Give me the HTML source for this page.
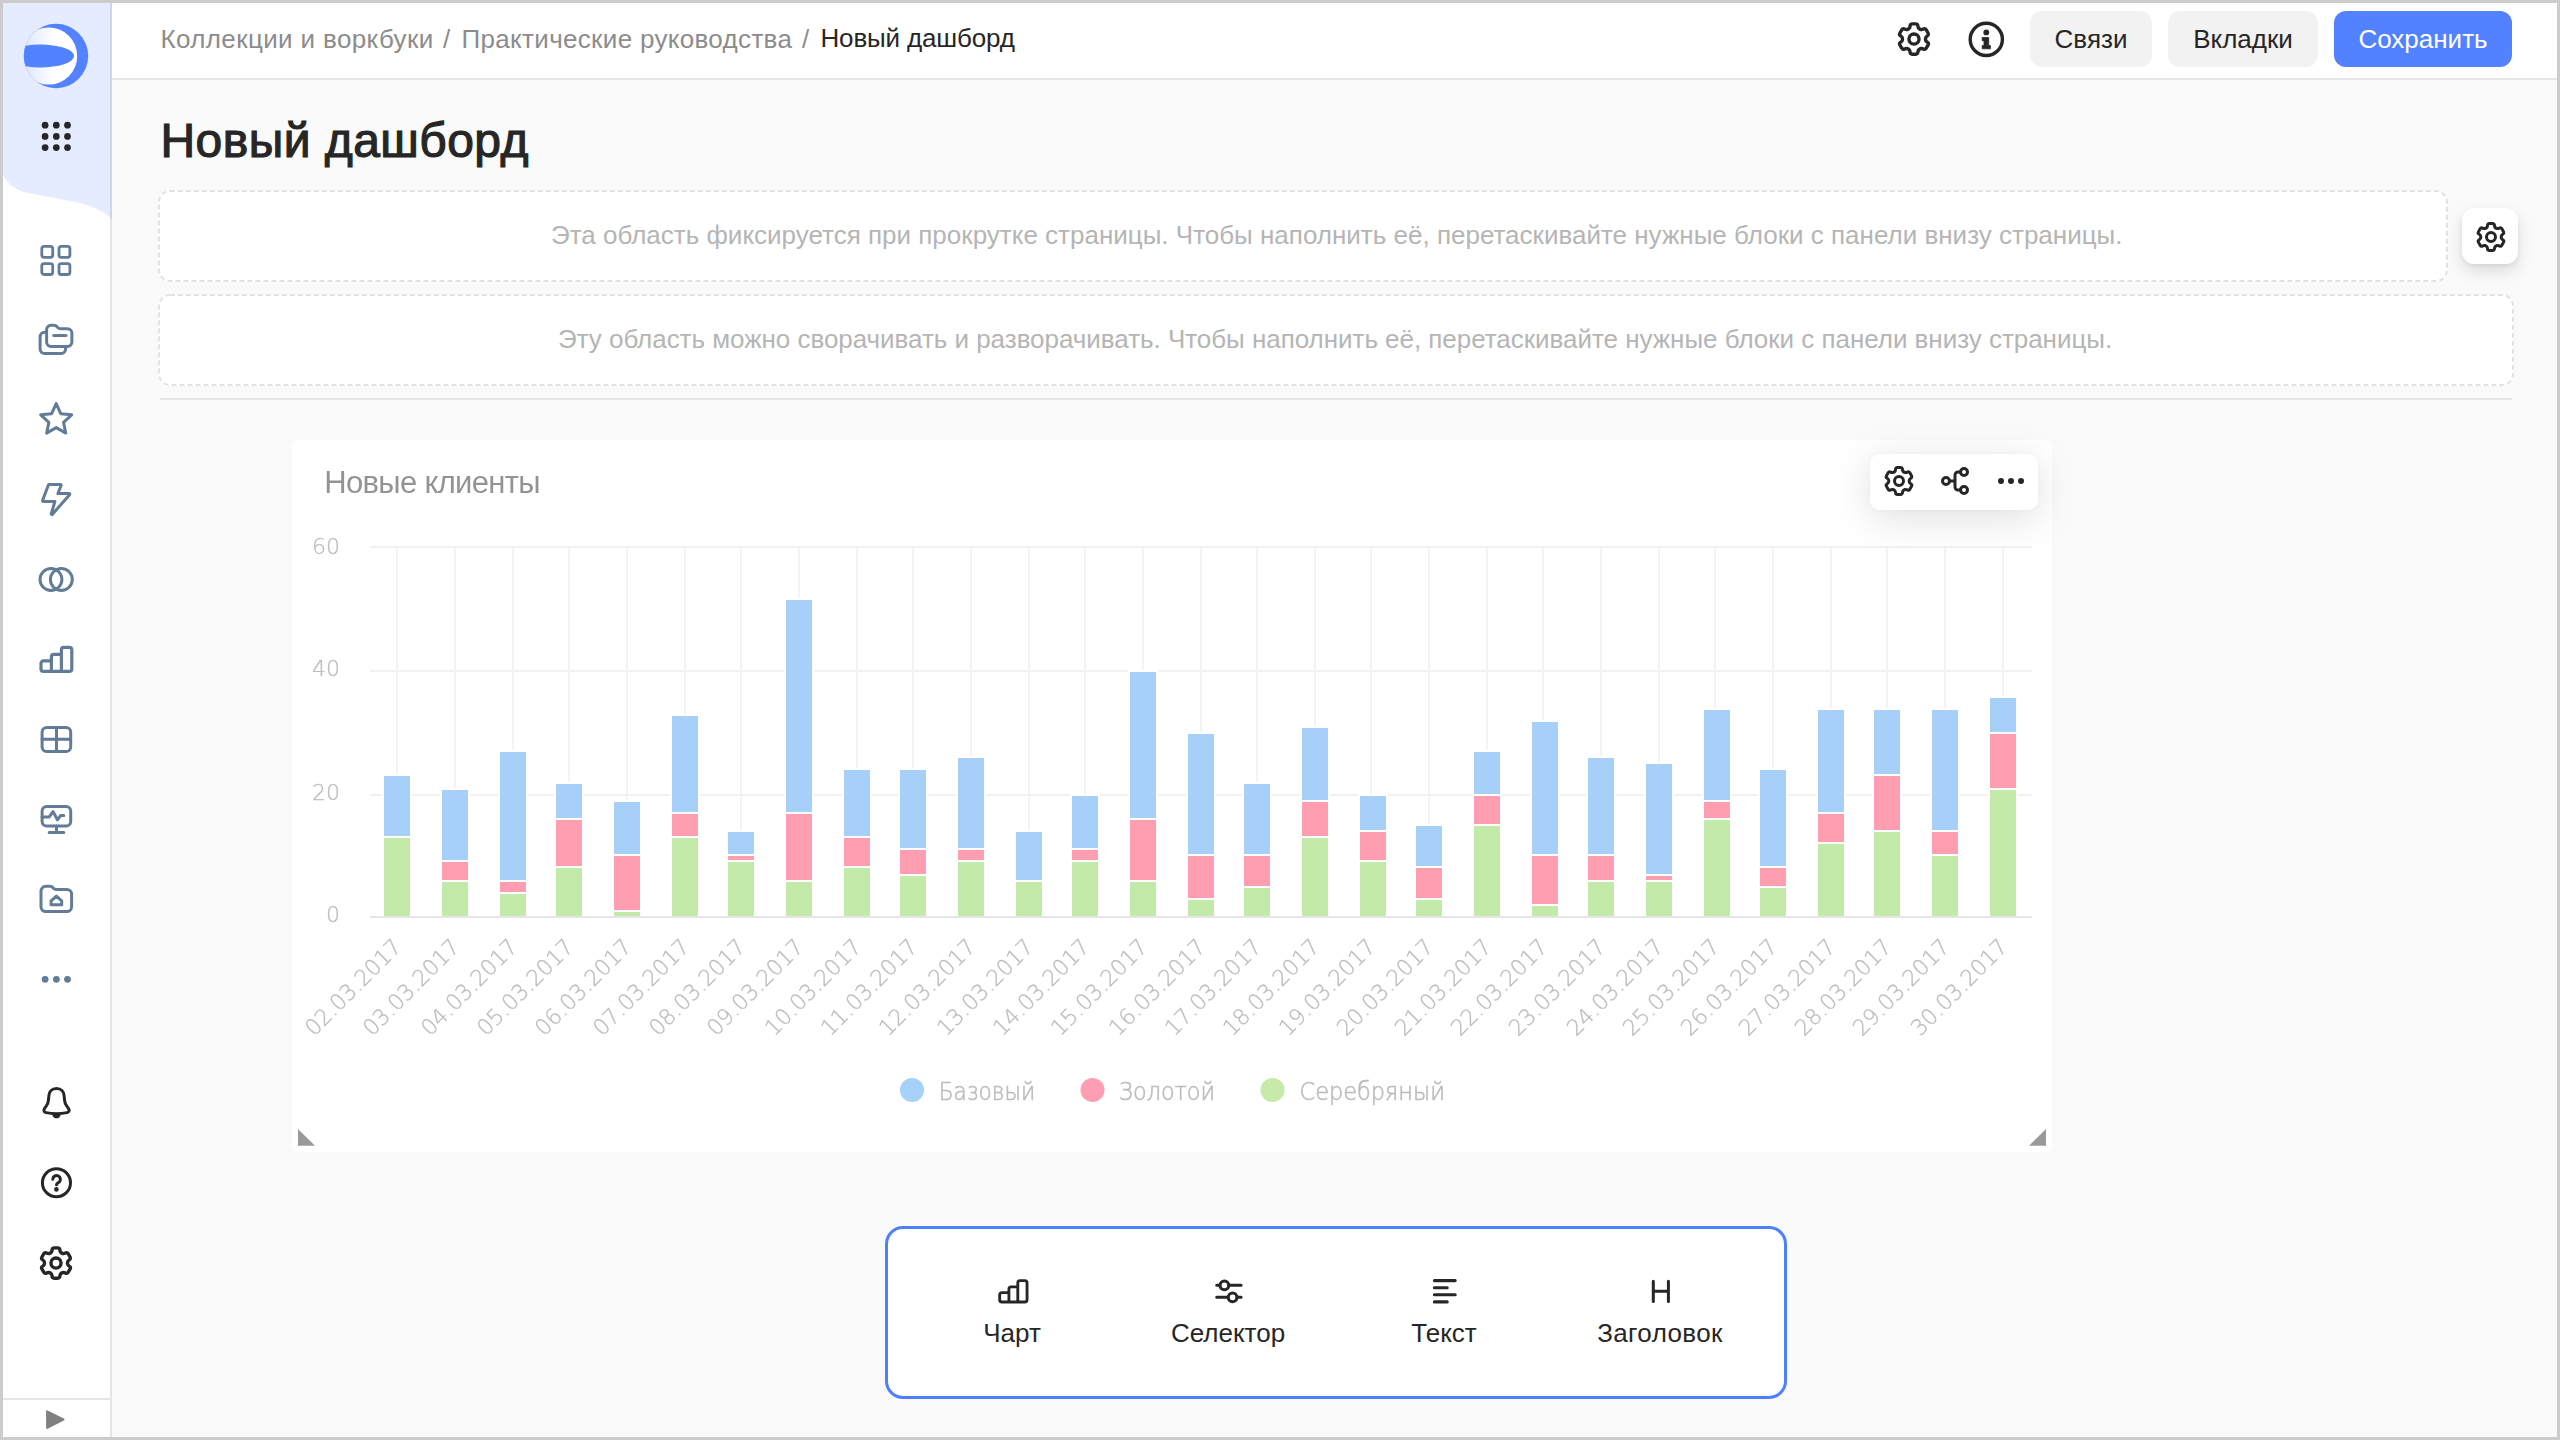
<!DOCTYPE html>
<html lang="ru">
<head>
<meta charset="utf-8">
<title>Новый дашборд</title>
<style>
*{box-sizing:border-box;margin:0;padding:0}
html,body{width:2560px;height:1440px;overflow:hidden;background:#fafafa}
body{position:relative;font-family:"Liberation Sans","DejaVu Sans",sans-serif;color:#262626;font-size:26px;line-height:1}
.abs{position:absolute}
.frame{position:absolute;left:0;top:0;width:2560px;height:1440px;border:3px solid #ccc;z-index:50;pointer-events:none}
/* sidebar */
.side{position:absolute;left:0;top:0;width:112px;height:1440px;background:#fff;border-right:2px solid #e5e5e5}
.side .deco{position:absolute;left:0;top:0;width:112px;height:161.500px;background:#e5ecff}
.side .decosvg{position:absolute;left:0;top:161px;width:112px;height:58px;display:block}
.side .decoline{position:absolute;left:110px;top:0;width:2px;height:219px;background:#cfd5e8}
.ico{position:absolute;width:36px;height:36px;left:38px;display:block}
.ico.s{color:#627c97}
.ico.d{color:#262626}
.side .foot{position:absolute;left:0;top:1398px;width:112px;height:2px;background:#e5e5e5}
/* header */
.hdr{position:absolute;left:112px;top:0;width:2448px;height:80px;background:#fff;border-bottom:2px solid #e5e5e5}
.bc{position:absolute;top:24px;height:30px;line-height:30px;white-space:nowrap;font-size:26px;color:#8c8c8c}
#l4{letter-spacing:.38px}#p2{letter-spacing:-.035px}#bc1{letter-spacing:.37px}#bc2{letter-spacing:.32px}#bc3{letter-spacing:-.16px}
.bc.cur{color:#262626;top:22.500px}
.btn{position:absolute;top:11px;height:56px;border-radius:12px;background:#f2f2f2;color:#262626;font-size:26px;line-height:56px;text-align:center;white-space:nowrap}
.btn.pri{background:#5282ff;color:#fff}
.btn span{display:inline-block}
h1{position:absolute;left:160.500px;letter-spacing:.45px;top:112px;font-size:48px;line-height:58px;font-weight:400;white-space:nowrap;color:#262626;-webkit-text-stroke:1.150px #262626}
.ph{position:absolute;background:#fff;border-radius:12px;height:92px}
.ph svg{position:absolute;left:0;top:0;display:block}
.ph .t{position:absolute;top:30px;line-height:30px;height:30px;font-size:26px;color:#b5b5b5;white-space:nowrap}
.gearbtn{position:absolute;left:2462.300px;top:208px;width:56px;height:56px;border-radius:12px;background:#fff;box-shadow:0 7px 16px rgba(0,0,0,.13),0 2px 4px rgba(0,0,0,.05)}
.divider{position:absolute;left:160px;top:398px;width:2352px;height:2px;background:#e5e5e5}
.widget{position:absolute;left:292px;top:440px;width:1760px;height:712px;background:#fff;border-radius:6px}
.widget .chart{position:absolute;left:0;top:0;display:block}
.wtitle{position:absolute;left:33.500px;top:25px;font-size:30px;line-height:34px;color:#1c1c1c;opacity:.5;white-space:nowrap;letter-spacing:-.36px}
.ax{font-family:"DejaVu Sans Light","DejaVu Sans",sans-serif;font-weight:200;font-size:22px;fill:#7c7c7c;stroke:#7c7c7c;stroke-width:.35px}
.lg{font-family:"DejaVu Sans Light","DejaVu Sans",sans-serif;font-weight:200;font-size:24px;fill:#787878;stroke:#787878;stroke-width:.6px}
.ovl{position:absolute;left:1870px;top:454px;width:168px;height:56px;border-radius:10px;background:#fff;box-shadow:0 8px 40px rgba(0,0,0,.13),0 0 6px rgba(0,0,0,.04)}
.ovl svg{position:absolute;top:11px;margin-left:.5px;width:32px;height:32px;display:block;color:#262626}
.panel{position:absolute;left:885px;top:1226px;width:902px;height:173px;border:3px solid #4d80ff;border-radius:18px;background:#fff}
.pi{position:absolute;top:0;width:216px;height:167px;text-align:center}
.pi svg{position:absolute;left:92px;top:47px;width:32px;height:32px;display:block;color:#262626}
.pi .l{position:absolute;left:0;width:216px;top:88px;font-size:26px;line-height:32px;color:#262626;white-space:nowrap}
</style>
</head>
<body>
<!-- SIDEBAR -->
<div class="side">
  <div class="deco"></div>
  <svg class="decosvg" viewBox="0 0 56 29" preserveAspectRatio="none"><path fill="#e5ecff" d="M56 0v29c-.8-1-7-6.100-17.700-8.400L13 15.700A16 16 0 0 1 0 0Z"/></svg>
  <div class="decoline"></div>
<svg class="abs" style="left:23px;top:23px" width="66" height="66" viewBox="23 23 66 66">
<defs><clipPath id="lc"><circle cx="56" cy="56" r="32.200"/></clipPath>
<linearGradient id="lg1" x1="0" x2="1" y1="0" y2="0"><stop offset="0" stop-color="#d9e3ff"/><stop offset=".6" stop-color="#ffffff"/></linearGradient></defs>
<circle cx="56" cy="56" r="32.200" fill="#5282ff"/>
<g clip-path="url(#lc)"><circle cx="48.600" cy="56" r="28.600" fill="url(#lg1)"/><ellipse cx="40" cy="56" rx="34" ry="11.500" fill="#5282ff"/></g>
</svg>
<svg class="ico d" style="top:118px" viewBox="0 0 36 36"><g fill="currentColor"><circle cx="7.1" cy="7.2" r="3.350"/><circle cx="18.3" cy="7.2" r="3.350"/><circle cx="29.5" cy="7.2" r="3.350"/><circle cx="7.1" cy="18.4" r="3.350"/><circle cx="18.3" cy="18.4" r="3.350"/><circle cx="29.5" cy="18.4" r="3.350"/><circle cx="7.1" cy="29.6" r="3.350"/><circle cx="18.3" cy="29.6" r="3.350"/><circle cx="29.5" cy="29.6" r="3.350"/></g></svg>
<svg class="ico s" style="top:244px" viewBox="0 0 36 36"><g fill="none" stroke="currentColor" stroke-width="2.8" stroke-linecap="round" stroke-linejoin="round"><rect x="3.8" y="2.4" width="10.900" height="10.900" rx="2.200"/><rect x="21" y="2.4" width="10.900" height="10.900" rx="2.200"/><rect x="3.8" y="19.6" width="10.900" height="10.900" rx="2.200"/><rect x="21" y="19.6" width="10.900" height="10.900" rx="2.200"/></g></svg>
<svg class="ico s" style="top:322px" viewBox="0 0 36 36"><g fill="none" stroke="currentColor" stroke-width="3" stroke-linecap="round" stroke-linejoin="round"><path d="M8.600 19.900V7.700a4.500 4.500 0 0 1 4.500-4.500h2.600c1.500 0 2.500.5 3.300 1.500l1 1.100c.6.600 1.200 1 2.200 1h7.200a4.500 4.500 0 0 1 4.500 4.500v8.600a4.500 4.500 0 0 1-4.500 4.500H13.100a4.500 4.500 0 0 1-4.500-4.500Z"/><path d="M15.700 13.500H28"/><path d="M8 10.300H6.600a4.500 4.500 0 0 0-4.500 4.500v12.300a4.500 4.500 0 0 0 4.500 4.500h16.500a4.500 4.500 0 0 0 4.500-4.500V25.200"/></g></svg>
<svg class="ico s" style="top:401px" viewBox="0 0 36 36"><g fill="none" stroke="currentColor" stroke-width="3" stroke-linecap="round" stroke-linejoin="round"><path d="M18.20 2.60 L22.73 12.67 L33.70 13.86 L25.52 21.28 L27.78 32.09 L18.20 26.60 L8.62 32.09 L10.88 21.28 L2.70 13.86 L13.67 12.67Z"/></g></svg>
<svg class="ico s" style="top:481px" viewBox="0 0 36 36"><g fill="none" stroke="currentColor" stroke-width="3" stroke-linecap="round" stroke-linejoin="round"><path d="M11.200 3.500H22.300a.8.800 0 0 1 .8 1L19.900 12.500H31a.8.800 0 0 1 .6 1.300L14.300 33.400a.6.600 0 0 1-1-.6L16.900 20.500H5.300a.8.800 0 0 1-.7-1.100L10.400 4a.9.900 0 0 1 .8-.5Z"/></g></svg>
<svg class="ico s" style="top:561px" viewBox="0 0 36 36"><g fill="none" stroke="currentColor" stroke-width="3" stroke-linecap="round" stroke-linejoin="round"><circle cx="12.950" cy="18.450" r="10.950"/><circle cx="23.350" cy="18.450" r="10.950"/></g></svg>
<svg class="ico s" style="top:641px" viewBox="0 0 36 36"><g fill="none" stroke="currentColor" stroke-width="3.2" stroke-linecap="round" stroke-linejoin="round"><path d="M5.500 19.900H13.400V15.800a2.500 2.500 0 0 1 2.500-2.500H23.400V8.800a2.500 2.500 0 0 1 2.500-2.500h5.400a2.500 2.500 0 0 1 2.500 2.500V27.900a2.500 2.500 0 0 1-2.500 2.500H5.500a2.500 2.500 0 0 1-2.500-2.500V22.400a2.500 2.500 0 0 1 2.500-2.500ZM13.400 19.900V30.400M23.400 13.300V30.400"/></g></svg>
<svg class="ico s" style="top:722px" viewBox="0 0 36 36"><g fill="none" stroke="currentColor" stroke-width="3" stroke-linecap="round" stroke-linejoin="round"><rect x="4.100" y="5.400" width="28.600" height="24.100" rx="4.600"/><path d="M18.500 5.400v24.100M4.100 17.300h28.600"/></g></svg>
<svg class="ico s" style="top:801px" viewBox="0 0 36 36"><g fill="none" stroke="currentColor" stroke-width="3" stroke-linecap="round" stroke-linejoin="round"><rect x="4.100" y="5.400" width="28.600" height="19.600" rx="4.600"/><path d="M18.500 25v6M11.200 31.400h14.600M4.100 15.900H11.300L15.100 10.600L19.400 18.800L22.700 14.500H25.800"/></g></svg>
<svg class="ico s" style="top:881px" viewBox="0 0 36 36"><g fill="none" stroke="currentColor" stroke-width="3" stroke-linecap="round" stroke-linejoin="round"><path d="M3 10.100a4.800 4.800 0 0 1 4.800-4.800h4c1.500 0 2.500.5 3.300 1.500l.6.700c.6.600 1.200.9 2.200.9h10.900a4.800 4.800 0 0 1 4.800 4.800v12.500a4.800 4.800 0 0 1-4.800 4.800H7.800A4.800 4.800 0 0 1 3 25.700Z"/><path d="M13.100 23.700V19.900L18.400 15.100L23.700 19.900V23.700Z"/></g></svg>
<svg class="ico s" style="top:961px" viewBox="0 0 36 36"><g fill="currentColor"><circle cx="7.100" cy="18.300" r="3.400"/><circle cx="18.400" cy="18.300" r="3.400"/><circle cx="29.500" cy="18.300" r="3.400"/></g></svg>
<svg class="ico d" style="top:1085px" viewBox="0 0 36 36"><g fill="none" stroke="currentColor" stroke-width="3" stroke-linecap="round" stroke-linejoin="round"><path d="M18.500 3.500C13.900 3.500 11.100 6.700 10.900 10.600L10.400 15.500C10.200 17.600 9.500 19.500 8.200 21.200L6.600 23.300C5.200 25.100 6 27.200 8 27.600C14 28.800 23 28.800 29 27.600C31 27.200 31.800 25.100 30.400 23.300L28.800 21.200C27.500 19.500 26.800 17.600 26.600 15.500L26.100 10.600C25.900 6.700 23.100 3.500 18.500 3.500Z"/></g><path fill="currentColor" d="M14.200 29.400C14.900 32 16.500 33.300 18.500 33.300C20.500 33.300 22.100 32 22.800 29.400Z"/></svg>
<svg class="ico d" style="top:1165px" viewBox="0 0 36 36"><g fill="none" stroke="currentColor" stroke-width="3" stroke-linecap="round" stroke-linejoin="round"><circle cx="18.450" cy="17.750" r="14.050"/><path d="M14.800 14.200a3.800 3.800 0 1 1 6.400 2.900c-1.300 1-2.700 1.400-2.700 2.600"/></g><circle cx="18.400" cy="24.400" r="2.300" fill="currentColor"/></svg>
<svg class="ico d" style="top:1245px" viewBox="0 0 16 16"><path fill="currentColor" fill-rule="evenodd" clip-rule="evenodd" d="M7.199 2H8.800a.2.2 0 0 1 .2.2c0 1.808 1.958 2.939 3.524 2.034a.199.199 0 0 1 .271.073l.802 1.388a.199.199 0 0 1-.073.272c-1.566.904-1.566 3.164 0 4.069a.199.199 0 0 1 .073.271l-.802 1.388a.199.199 0 0 1-.271.073C10.958 10.863 9 11.993 9 13.800a.2.2 0 0 1-.199.2H7.200a.199.199 0 0 1-.2-.2c0-1.808-1.958-2.938-3.524-2.034a.199.199 0 0 1-.272-.073l-.8-1.388a.199.199 0 0 1 .072-.271c1.566-.905 1.566-3.165 0-4.070a.199.199 0 0 1-.073-.27l.801-1.389a.199.199 0 0 1 .272-.072C5.042 5.138 7 4.007 7 2.199c0-.11.089-.199.199-.199ZM5.500 2.200c0-.94.760-1.700 1.699-1.700H8.800c.94 0 1.700.760 1.700 1.700a.85.85 0 0 0 1.274.735 1.699 1.699 0 0 1 2.320.622l.802 1.388c.469.813.190 1.851-.622 2.320a.85.85 0 0 0 0 1.472 1.700 1.700 0 0 1 .622 2.320l-.802 1.388a1.699 1.699 0 0 1-2.320.622.85.85 0 0 0-1.274.735c0 .939-.760 1.700-1.700 1.700H7.200a1.700 1.700 0 0 1-1.699-1.700.85.85 0 0 0-1.274-.735 1.698 1.698 0 0 1-2.320-.622l-.802-1.388a1.699 1.699 0 0 1 .622-2.320.85.85 0 0 0 0-1.471 1.699 1.699 0 0 1-.622-2.321l.801-1.388a1.699 1.699 0 0 1 2.320-.622A.85.85 0 0 0 5.500 2.200Zm4 5.800a1.500 1.500 0 1 1-3 0 1.500 1.500 0 0 1 3 0ZM11 8a3 3 0 1 1-6 0 3 3 0 0 1 6 0Z"/></svg>
  <div class="foot"></div>
  <svg class="abs" style="left:44px;top:1408px" width="24" height="24" viewBox="44 1408 24 24"><path d="M46.100 1411.300a1 1 0 0 1 1.450-.9L63.900 1418.600a1 1 0 0 1 0 1.800L47.550 1428.700a1 1 0 0 1-1.450-.9Z" fill="#808080"/></svg>
</div>
<!-- HEADER -->
<div class="hdr"></div>
<div class="bc" id="bc1" style="left:160.500px">Коллекции и воркбуки</div>
<div class="bc" id="s1" style="left:443px">/</div>
<div class="bc" id="bc2" style="left:461.500px">Практические руководства</div>
<div class="bc" id="s2" style="left:802px">/</div>
<div class="bc cur" id="bc3" style="left:820.500px">Новый дашборд</div>
<svg class="abs" style="left:1896px;top:21px;width:36px;height:36px;color:#262626" viewBox="0 0 16 16"><path fill="currentColor" fill-rule="evenodd" clip-rule="evenodd" d="M7.199 2H8.800a.2.2 0 0 1 .2.2c0 1.808 1.958 2.939 3.524 2.034a.199.199 0 0 1 .271.073l.802 1.388a.199.199 0 0 1-.073.272c-1.566.904-1.566 3.164 0 4.069a.199.199 0 0 1 .073.271l-.802 1.388a.199.199 0 0 1-.271.073C10.958 10.863 9 11.993 9 13.800a.2.2 0 0 1-.199.2H7.200a.199.199 0 0 1-.2-.2c0-1.808-1.958-2.938-3.524-2.034a.199.199 0 0 1-.272-.073l-.8-1.388a.199.199 0 0 1 .072-.271c1.566-.905 1.566-3.165 0-4.070a.199.199 0 0 1-.073-.27l.801-1.389a.199.199 0 0 1 .272-.072C5.042 5.138 7 4.007 7 2.199c0-.11.089-.199.199-.199ZM5.500 2.200c0-.94.760-1.700 1.699-1.700H8.800c.94 0 1.700.760 1.700 1.700a.85.85 0 0 0 1.274.735 1.699 1.699 0 0 1 2.320.622l.802 1.388c.469.813.190 1.851-.622 2.320a.85.85 0 0 0 0 1.472 1.700 1.700 0 0 1 .622 2.320l-.802 1.388a1.699 1.699 0 0 1-2.320.622.85.85 0 0 0-1.274.735c0 .939-.760 1.700-1.700 1.700H7.200a1.700 1.700 0 0 1-1.699-1.700.85.85 0 0 0-1.274-.735 1.698 1.698 0 0 1-2.320-.622l-.802-1.388a1.699 1.699 0 0 1 .622-2.320.85.85 0 0 0 0-1.471 1.699 1.699 0 0 1-.622-2.321l.801-1.388a1.699 1.699 0 0 1 2.320-.622A.85.85 0 0 0 5.500 2.200Zm4 5.800a1.500 1.500 0 1 1-3 0 1.500 1.500 0 0 1 3 0ZM11 8a3 3 0 1 1-6 0 3 3 0 0 1 6 0Z"/></svg>
<svg class="abs" style="left:1966px;top:19px" width="40" height="40" viewBox="0 0 40 40"><circle cx="20.300" cy="20.400" r="16.100" fill="none" stroke="#262626" stroke-width="3.400"/><circle cx="20.300" cy="13.400" r="2.900" fill="#262626"/><path d="M16.200 18.500h6.500v8h1.700v3.300h-8.200v-3.300h1.800v-4.800h-1.800Z" fill="#262626" stroke="#262626" stroke-width=".8" stroke-linejoin="round"/></svg>
<div class="btn" style="left:2030px;width:122px"><span id="b1">Связи</span></div>
<div class="btn" style="left:2168px;width:150px"><span id="b2">Вкладки</span></div>
<div class="btn pri" style="left:2334px;width:178px"><span id="b3">Сохранить</span></div>
<!-- CONTENT -->
<h1 id="h1">Новый дашборд</h1>
<div class="ph" style="left:158px;top:190px;width:2290px">
  <svg width="2290" height="92"><rect x="1" y="1" width="2288" height="90" rx="11" fill="none" stroke="#e2e2e2" stroke-width="2" stroke-dasharray="5 3"/></svg>
  <div class="t" id="p1" style="left:393px">Эта область фиксируется при прокрутке страницы. Чтобы наполнить её, перетаскивайте нужные блоки с панели внизу страницы.</div>
</div>
<div class="gearbtn"><svg class="abs" style="left:13px;top:12.500px;width:32px;height:32px;color:#262626" viewBox="0 0 16 16"><path fill="currentColor" fill-rule="evenodd" clip-rule="evenodd" d="M7.199 2H8.800a.2.2 0 0 1 .2.2c0 1.808 1.958 2.939 3.524 2.034a.199.199 0 0 1 .271.073l.802 1.388a.199.199 0 0 1-.073.272c-1.566.904-1.566 3.164 0 4.069a.199.199 0 0 1 .073.271l-.802 1.388a.199.199 0 0 1-.271.073C10.958 10.863 9 11.993 9 13.800a.2.2 0 0 1-.199.2H7.200a.199.199 0 0 1-.2-.2c0-1.808-1.958-2.938-3.524-2.034a.199.199 0 0 1-.272-.073l-.8-1.388a.199.199 0 0 1 .072-.271c1.566-.905 1.566-3.165 0-4.070a.199.199 0 0 1-.073-.27l.801-1.389a.199.199 0 0 1 .272-.072C5.042 5.138 7 4.007 7 2.199c0-.11.089-.199.199-.199ZM5.500 2.200c0-.94.760-1.700 1.699-1.700H8.800c.94 0 1.700.760 1.700 1.700a.85.85 0 0 0 1.274.735 1.699 1.699 0 0 1 2.320.622l.802 1.388c.469.813.190 1.851-.622 2.320a.85.85 0 0 0 0 1.472 1.700 1.700 0 0 1 .622 2.320l-.802 1.388a1.699 1.699 0 0 1-2.320.622.85.85 0 0 0-1.274.735c0 .939-.760 1.700-1.700 1.700H7.200a1.700 1.700 0 0 1-1.699-1.700.85.85 0 0 0-1.274-.735 1.698 1.698 0 0 1-2.320-.622l-.802-1.388a1.699 1.699 0 0 1 .622-2.320.85.85 0 0 0 0-1.471 1.699 1.699 0 0 1-.622-2.321l.801-1.388a1.699 1.699 0 0 1 2.320-.622A.85.85 0 0 0 5.500 2.200Zm4 5.800a1.500 1.500 0 1 1-3 0 1.500 1.500 0 0 1 3 0ZM11 8a3 3 0 1 1-6 0 3 3 0 0 1 6 0Z"/></svg></div>
<div class="ph" style="left:158px;top:294px;width:2356px">
  <svg width="2356" height="92"><rect x="1" y="1" width="2354" height="90" rx="11" fill="none" stroke="#e2e2e2" stroke-width="2" stroke-dasharray="5 3"/></svg>
  <div class="t" id="p2" style="left:400px">Эту область можно сворачивать и разворачивать. Чтобы наполнить её, перетаскивайте нужные блоки с панели внизу страницы.</div>
</div>
<div class="divider"></div>
<div class="widget">
<svg class="chart" width="1760" height="712" viewBox="292 440 1760 712">
<g opacity=".5">
<rect x="370" y="546" width="1662" height="2" fill="#e4e4e4"/>
<rect x="370" y="670" width="1662" height="2" fill="#e4e4e4"/>
<rect x="370" y="794" width="1662" height="2" fill="#e4e4e4"/>
<rect x="396" y="548" width="2" height="368" fill="#e8e8e8"/>
<rect x="454" y="548" width="2" height="368" fill="#e8e8e8"/>
<rect x="512" y="548" width="2" height="368" fill="#e8e8e8"/>
<rect x="568" y="548" width="2" height="368" fill="#e8e8e8"/>
<rect x="626" y="548" width="2" height="368" fill="#e8e8e8"/>
<rect x="684" y="548" width="2" height="368" fill="#e8e8e8"/>
<rect x="740" y="548" width="2" height="368" fill="#e8e8e8"/>
<rect x="798" y="548" width="2" height="368" fill="#e8e8e8"/>
<rect x="856" y="548" width="2" height="368" fill="#e8e8e8"/>
<rect x="912" y="548" width="2" height="368" fill="#e8e8e8"/>
<rect x="970" y="548" width="2" height="368" fill="#e8e8e8"/>
<rect x="1028" y="548" width="2" height="368" fill="#e8e8e8"/>
<rect x="1084" y="548" width="2" height="368" fill="#e8e8e8"/>
<rect x="1142" y="548" width="2" height="368" fill="#e8e8e8"/>
<rect x="1200" y="548" width="2" height="368" fill="#e8e8e8"/>
<rect x="1256" y="548" width="2" height="368" fill="#e8e8e8"/>
<rect x="1314" y="548" width="2" height="368" fill="#e8e8e8"/>
<rect x="1370" y="548" width="2" height="368" fill="#e8e8e8"/>
<rect x="1428" y="548" width="2" height="368" fill="#e8e8e8"/>
<rect x="1486" y="548" width="2" height="368" fill="#e8e8e8"/>
<rect x="1542" y="548" width="2" height="368" fill="#e8e8e8"/>
<rect x="1600" y="548" width="2" height="368" fill="#e8e8e8"/>
<rect x="1658" y="548" width="2" height="368" fill="#e8e8e8"/>
<rect x="1714" y="548" width="2" height="368" fill="#e8e8e8"/>
<rect x="1772" y="548" width="2" height="368" fill="#e8e8e8"/>
<rect x="1830" y="548" width="2" height="368" fill="#e8e8e8"/>
<rect x="1886" y="548" width="2" height="368" fill="#e8e8e8"/>
<rect x="1944" y="548" width="2" height="368" fill="#e8e8e8"/>
<rect x="2002" y="548" width="2" height="368" fill="#e8e8e8"/>
</g>
<rect x="383" y="837" width="28" height="80" fill="#fff" stroke="#fff" stroke-width="2"/>
<rect x="384" y="838" width="26" height="78" fill="#8ad554" opacity=".5"/>
<rect x="383" y="775" width="28" height="62" fill="#fff" stroke="#fff" stroke-width="2"/>
<rect x="384" y="776" width="26" height="60" fill="#4da2f1" opacity=".5"/>
<rect x="441" y="881" width="28" height="36" fill="#fff" stroke="#fff" stroke-width="2"/>
<rect x="442" y="882" width="26" height="34" fill="#8ad554" opacity=".5"/>
<rect x="441" y="861" width="28" height="20" fill="#fff" stroke="#fff" stroke-width="2"/>
<rect x="442" y="862" width="26" height="18" fill="#ff3d64" opacity=".5"/>
<rect x="441" y="789" width="28" height="72" fill="#fff" stroke="#fff" stroke-width="2"/>
<rect x="442" y="790" width="26" height="70" fill="#4da2f1" opacity=".5"/>
<rect x="499" y="893" width="28" height="24" fill="#fff" stroke="#fff" stroke-width="2"/>
<rect x="500" y="894" width="26" height="22" fill="#8ad554" opacity=".5"/>
<rect x="499" y="881" width="28" height="12" fill="#fff" stroke="#fff" stroke-width="2"/>
<rect x="500" y="882" width="26" height="10" fill="#ff3d64" opacity=".5"/>
<rect x="499" y="751" width="28" height="130" fill="#fff" stroke="#fff" stroke-width="2"/>
<rect x="500" y="752" width="26" height="128" fill="#4da2f1" opacity=".5"/>
<rect x="555" y="867" width="28" height="50" fill="#fff" stroke="#fff" stroke-width="2"/>
<rect x="556" y="868" width="26" height="48" fill="#8ad554" opacity=".5"/>
<rect x="555" y="819" width="28" height="48" fill="#fff" stroke="#fff" stroke-width="2"/>
<rect x="556" y="820" width="26" height="46" fill="#ff3d64" opacity=".5"/>
<rect x="555" y="783" width="28" height="36" fill="#fff" stroke="#fff" stroke-width="2"/>
<rect x="556" y="784" width="26" height="34" fill="#4da2f1" opacity=".5"/>
<rect x="613" y="911" width="28" height="6" fill="#fff" stroke="#fff" stroke-width="2"/>
<rect x="614" y="912" width="26" height="4" fill="#8ad554" opacity=".5"/>
<rect x="613" y="855" width="28" height="56" fill="#fff" stroke="#fff" stroke-width="2"/>
<rect x="614" y="856" width="26" height="54" fill="#ff3d64" opacity=".5"/>
<rect x="613" y="801" width="28" height="54" fill="#fff" stroke="#fff" stroke-width="2"/>
<rect x="614" y="802" width="26" height="52" fill="#4da2f1" opacity=".5"/>
<rect x="671" y="837" width="28" height="80" fill="#fff" stroke="#fff" stroke-width="2"/>
<rect x="672" y="838" width="26" height="78" fill="#8ad554" opacity=".5"/>
<rect x="671" y="813" width="28" height="24" fill="#fff" stroke="#fff" stroke-width="2"/>
<rect x="672" y="814" width="26" height="22" fill="#ff3d64" opacity=".5"/>
<rect x="671" y="715" width="28" height="98" fill="#fff" stroke="#fff" stroke-width="2"/>
<rect x="672" y="716" width="26" height="96" fill="#4da2f1" opacity=".5"/>
<rect x="727" y="861" width="28" height="56" fill="#fff" stroke="#fff" stroke-width="2"/>
<rect x="728" y="862" width="26" height="54" fill="#8ad554" opacity=".5"/>
<rect x="727" y="855" width="28" height="6" fill="#fff" stroke="#fff" stroke-width="2"/>
<rect x="728" y="856" width="26" height="4" fill="#ff3d64" opacity=".5"/>
<rect x="727" y="831" width="28" height="24" fill="#fff" stroke="#fff" stroke-width="2"/>
<rect x="728" y="832" width="26" height="22" fill="#4da2f1" opacity=".5"/>
<rect x="785" y="881" width="28" height="36" fill="#fff" stroke="#fff" stroke-width="2"/>
<rect x="786" y="882" width="26" height="34" fill="#8ad554" opacity=".5"/>
<rect x="785" y="813" width="28" height="68" fill="#fff" stroke="#fff" stroke-width="2"/>
<rect x="786" y="814" width="26" height="66" fill="#ff3d64" opacity=".5"/>
<rect x="785" y="599" width="28" height="214" fill="#fff" stroke="#fff" stroke-width="2"/>
<rect x="786" y="600" width="26" height="212" fill="#4da2f1" opacity=".5"/>
<rect x="843" y="867" width="28" height="50" fill="#fff" stroke="#fff" stroke-width="2"/>
<rect x="844" y="868" width="26" height="48" fill="#8ad554" opacity=".5"/>
<rect x="843" y="837" width="28" height="30" fill="#fff" stroke="#fff" stroke-width="2"/>
<rect x="844" y="838" width="26" height="28" fill="#ff3d64" opacity=".5"/>
<rect x="843" y="769" width="28" height="68" fill="#fff" stroke="#fff" stroke-width="2"/>
<rect x="844" y="770" width="26" height="66" fill="#4da2f1" opacity=".5"/>
<rect x="899" y="875" width="28" height="42" fill="#fff" stroke="#fff" stroke-width="2"/>
<rect x="900" y="876" width="26" height="40" fill="#8ad554" opacity=".5"/>
<rect x="899" y="849" width="28" height="26" fill="#fff" stroke="#fff" stroke-width="2"/>
<rect x="900" y="850" width="26" height="24" fill="#ff3d64" opacity=".5"/>
<rect x="899" y="769" width="28" height="80" fill="#fff" stroke="#fff" stroke-width="2"/>
<rect x="900" y="770" width="26" height="78" fill="#4da2f1" opacity=".5"/>
<rect x="957" y="861" width="28" height="56" fill="#fff" stroke="#fff" stroke-width="2"/>
<rect x="958" y="862" width="26" height="54" fill="#8ad554" opacity=".5"/>
<rect x="957" y="849" width="28" height="12" fill="#fff" stroke="#fff" stroke-width="2"/>
<rect x="958" y="850" width="26" height="10" fill="#ff3d64" opacity=".5"/>
<rect x="957" y="757" width="28" height="92" fill="#fff" stroke="#fff" stroke-width="2"/>
<rect x="958" y="758" width="26" height="90" fill="#4da2f1" opacity=".5"/>
<rect x="1015" y="881" width="28" height="36" fill="#fff" stroke="#fff" stroke-width="2"/>
<rect x="1016" y="882" width="26" height="34" fill="#8ad554" opacity=".5"/>
<rect x="1015" y="831" width="28" height="50" fill="#fff" stroke="#fff" stroke-width="2"/>
<rect x="1016" y="832" width="26" height="48" fill="#4da2f1" opacity=".5"/>
<rect x="1071" y="861" width="28" height="56" fill="#fff" stroke="#fff" stroke-width="2"/>
<rect x="1072" y="862" width="26" height="54" fill="#8ad554" opacity=".5"/>
<rect x="1071" y="849" width="28" height="12" fill="#fff" stroke="#fff" stroke-width="2"/>
<rect x="1072" y="850" width="26" height="10" fill="#ff3d64" opacity=".5"/>
<rect x="1071" y="795" width="28" height="54" fill="#fff" stroke="#fff" stroke-width="2"/>
<rect x="1072" y="796" width="26" height="52" fill="#4da2f1" opacity=".5"/>
<rect x="1129" y="881" width="28" height="36" fill="#fff" stroke="#fff" stroke-width="2"/>
<rect x="1130" y="882" width="26" height="34" fill="#8ad554" opacity=".5"/>
<rect x="1129" y="819" width="28" height="62" fill="#fff" stroke="#fff" stroke-width="2"/>
<rect x="1130" y="820" width="26" height="60" fill="#ff3d64" opacity=".5"/>
<rect x="1129" y="671" width="28" height="148" fill="#fff" stroke="#fff" stroke-width="2"/>
<rect x="1130" y="672" width="26" height="146" fill="#4da2f1" opacity=".5"/>
<rect x="1187" y="899" width="28" height="18" fill="#fff" stroke="#fff" stroke-width="2"/>
<rect x="1188" y="900" width="26" height="16" fill="#8ad554" opacity=".5"/>
<rect x="1187" y="855" width="28" height="44" fill="#fff" stroke="#fff" stroke-width="2"/>
<rect x="1188" y="856" width="26" height="42" fill="#ff3d64" opacity=".5"/>
<rect x="1187" y="733" width="28" height="122" fill="#fff" stroke="#fff" stroke-width="2"/>
<rect x="1188" y="734" width="26" height="120" fill="#4da2f1" opacity=".5"/>
<rect x="1243" y="887" width="28" height="30" fill="#fff" stroke="#fff" stroke-width="2"/>
<rect x="1244" y="888" width="26" height="28" fill="#8ad554" opacity=".5"/>
<rect x="1243" y="855" width="28" height="32" fill="#fff" stroke="#fff" stroke-width="2"/>
<rect x="1244" y="856" width="26" height="30" fill="#ff3d64" opacity=".5"/>
<rect x="1243" y="783" width="28" height="72" fill="#fff" stroke="#fff" stroke-width="2"/>
<rect x="1244" y="784" width="26" height="70" fill="#4da2f1" opacity=".5"/>
<rect x="1301" y="837" width="28" height="80" fill="#fff" stroke="#fff" stroke-width="2"/>
<rect x="1302" y="838" width="26" height="78" fill="#8ad554" opacity=".5"/>
<rect x="1301" y="801" width="28" height="36" fill="#fff" stroke="#fff" stroke-width="2"/>
<rect x="1302" y="802" width="26" height="34" fill="#ff3d64" opacity=".5"/>
<rect x="1301" y="727" width="28" height="74" fill="#fff" stroke="#fff" stroke-width="2"/>
<rect x="1302" y="728" width="26" height="72" fill="#4da2f1" opacity=".5"/>
<rect x="1359" y="861" width="28" height="56" fill="#fff" stroke="#fff" stroke-width="2"/>
<rect x="1360" y="862" width="26" height="54" fill="#8ad554" opacity=".5"/>
<rect x="1359" y="831" width="28" height="30" fill="#fff" stroke="#fff" stroke-width="2"/>
<rect x="1360" y="832" width="26" height="28" fill="#ff3d64" opacity=".5"/>
<rect x="1359" y="795" width="28" height="36" fill="#fff" stroke="#fff" stroke-width="2"/>
<rect x="1360" y="796" width="26" height="34" fill="#4da2f1" opacity=".5"/>
<rect x="1415" y="899" width="28" height="18" fill="#fff" stroke="#fff" stroke-width="2"/>
<rect x="1416" y="900" width="26" height="16" fill="#8ad554" opacity=".5"/>
<rect x="1415" y="867" width="28" height="32" fill="#fff" stroke="#fff" stroke-width="2"/>
<rect x="1416" y="868" width="26" height="30" fill="#ff3d64" opacity=".5"/>
<rect x="1415" y="825" width="28" height="42" fill="#fff" stroke="#fff" stroke-width="2"/>
<rect x="1416" y="826" width="26" height="40" fill="#4da2f1" opacity=".5"/>
<rect x="1473" y="825" width="28" height="92" fill="#fff" stroke="#fff" stroke-width="2"/>
<rect x="1474" y="826" width="26" height="90" fill="#8ad554" opacity=".5"/>
<rect x="1473" y="795" width="28" height="30" fill="#fff" stroke="#fff" stroke-width="2"/>
<rect x="1474" y="796" width="26" height="28" fill="#ff3d64" opacity=".5"/>
<rect x="1473" y="751" width="28" height="44" fill="#fff" stroke="#fff" stroke-width="2"/>
<rect x="1474" y="752" width="26" height="42" fill="#4da2f1" opacity=".5"/>
<rect x="1531" y="905" width="28" height="12" fill="#fff" stroke="#fff" stroke-width="2"/>
<rect x="1532" y="906" width="26" height="10" fill="#8ad554" opacity=".5"/>
<rect x="1531" y="855" width="28" height="50" fill="#fff" stroke="#fff" stroke-width="2"/>
<rect x="1532" y="856" width="26" height="48" fill="#ff3d64" opacity=".5"/>
<rect x="1531" y="721" width="28" height="134" fill="#fff" stroke="#fff" stroke-width="2"/>
<rect x="1532" y="722" width="26" height="132" fill="#4da2f1" opacity=".5"/>
<rect x="1587" y="881" width="28" height="36" fill="#fff" stroke="#fff" stroke-width="2"/>
<rect x="1588" y="882" width="26" height="34" fill="#8ad554" opacity=".5"/>
<rect x="1587" y="855" width="28" height="26" fill="#fff" stroke="#fff" stroke-width="2"/>
<rect x="1588" y="856" width="26" height="24" fill="#ff3d64" opacity=".5"/>
<rect x="1587" y="757" width="28" height="98" fill="#fff" stroke="#fff" stroke-width="2"/>
<rect x="1588" y="758" width="26" height="96" fill="#4da2f1" opacity=".5"/>
<rect x="1645" y="881" width="28" height="36" fill="#fff" stroke="#fff" stroke-width="2"/>
<rect x="1646" y="882" width="26" height="34" fill="#8ad554" opacity=".5"/>
<rect x="1645" y="875" width="28" height="6" fill="#fff" stroke="#fff" stroke-width="2"/>
<rect x="1646" y="876" width="26" height="4" fill="#ff3d64" opacity=".5"/>
<rect x="1645" y="763" width="28" height="112" fill="#fff" stroke="#fff" stroke-width="2"/>
<rect x="1646" y="764" width="26" height="110" fill="#4da2f1" opacity=".5"/>
<rect x="1703" y="819" width="28" height="98" fill="#fff" stroke="#fff" stroke-width="2"/>
<rect x="1704" y="820" width="26" height="96" fill="#8ad554" opacity=".5"/>
<rect x="1703" y="801" width="28" height="18" fill="#fff" stroke="#fff" stroke-width="2"/>
<rect x="1704" y="802" width="26" height="16" fill="#ff3d64" opacity=".5"/>
<rect x="1703" y="709" width="28" height="92" fill="#fff" stroke="#fff" stroke-width="2"/>
<rect x="1704" y="710" width="26" height="90" fill="#4da2f1" opacity=".5"/>
<rect x="1759" y="887" width="28" height="30" fill="#fff" stroke="#fff" stroke-width="2"/>
<rect x="1760" y="888" width="26" height="28" fill="#8ad554" opacity=".5"/>
<rect x="1759" y="867" width="28" height="20" fill="#fff" stroke="#fff" stroke-width="2"/>
<rect x="1760" y="868" width="26" height="18" fill="#ff3d64" opacity=".5"/>
<rect x="1759" y="769" width="28" height="98" fill="#fff" stroke="#fff" stroke-width="2"/>
<rect x="1760" y="770" width="26" height="96" fill="#4da2f1" opacity=".5"/>
<rect x="1817" y="843" width="28" height="74" fill="#fff" stroke="#fff" stroke-width="2"/>
<rect x="1818" y="844" width="26" height="72" fill="#8ad554" opacity=".5"/>
<rect x="1817" y="813" width="28" height="30" fill="#fff" stroke="#fff" stroke-width="2"/>
<rect x="1818" y="814" width="26" height="28" fill="#ff3d64" opacity=".5"/>
<rect x="1817" y="709" width="28" height="104" fill="#fff" stroke="#fff" stroke-width="2"/>
<rect x="1818" y="710" width="26" height="102" fill="#4da2f1" opacity=".5"/>
<rect x="1873" y="831" width="28" height="86" fill="#fff" stroke="#fff" stroke-width="2"/>
<rect x="1874" y="832" width="26" height="84" fill="#8ad554" opacity=".5"/>
<rect x="1873" y="775" width="28" height="56" fill="#fff" stroke="#fff" stroke-width="2"/>
<rect x="1874" y="776" width="26" height="54" fill="#ff3d64" opacity=".5"/>
<rect x="1873" y="709" width="28" height="66" fill="#fff" stroke="#fff" stroke-width="2"/>
<rect x="1874" y="710" width="26" height="64" fill="#4da2f1" opacity=".5"/>
<rect x="1931" y="855" width="28" height="62" fill="#fff" stroke="#fff" stroke-width="2"/>
<rect x="1932" y="856" width="26" height="60" fill="#8ad554" opacity=".5"/>
<rect x="1931" y="831" width="28" height="24" fill="#fff" stroke="#fff" stroke-width="2"/>
<rect x="1932" y="832" width="26" height="22" fill="#ff3d64" opacity=".5"/>
<rect x="1931" y="709" width="28" height="122" fill="#fff" stroke="#fff" stroke-width="2"/>
<rect x="1932" y="710" width="26" height="120" fill="#4da2f1" opacity=".5"/>
<rect x="1989" y="789" width="28" height="128" fill="#fff" stroke="#fff" stroke-width="2"/>
<rect x="1990" y="790" width="26" height="126" fill="#8ad554" opacity=".5"/>
<rect x="1989" y="733" width="28" height="56" fill="#fff" stroke="#fff" stroke-width="2"/>
<rect x="1990" y="734" width="26" height="54" fill="#ff3d64" opacity=".5"/>
<rect x="1989" y="697" width="28" height="36" fill="#fff" stroke="#fff" stroke-width="2"/>
<rect x="1990" y="698" width="26" height="34" fill="#4da2f1" opacity=".5"/>
<g opacity=".5">
<rect x="370" y="916" width="1662" height="2" fill="#cccccc"/>
<text class="ax" x="340" y="922" text-anchor="end">0</text>
<text class="ax" x="340" y="800" text-anchor="end">20</text>
<text class="ax" x="340" y="676" text-anchor="end">40</text>
<text class="ax" x="340" y="554" text-anchor="end">60</text>
<text class="ax" x="403" y="948" text-anchor="end" transform="rotate(-45 403 948)">02.03.2017</text>
<text class="ax" x="461" y="948" text-anchor="end" transform="rotate(-45 461 948)">03.03.2017</text>
<text class="ax" x="519" y="948" text-anchor="end" transform="rotate(-45 519 948)">04.03.2017</text>
<text class="ax" x="575" y="948" text-anchor="end" transform="rotate(-45 575 948)">05.03.2017</text>
<text class="ax" x="633" y="948" text-anchor="end" transform="rotate(-45 633 948)">06.03.2017</text>
<text class="ax" x="691" y="948" text-anchor="end" transform="rotate(-45 691 948)">07.03.2017</text>
<text class="ax" x="747" y="948" text-anchor="end" transform="rotate(-45 747 948)">08.03.2017</text>
<text class="ax" x="805" y="948" text-anchor="end" transform="rotate(-45 805 948)">09.03.2017</text>
<text class="ax" x="863" y="948" text-anchor="end" transform="rotate(-45 863 948)">10.03.2017</text>
<text class="ax" x="919" y="948" text-anchor="end" transform="rotate(-45 919 948)">11.03.2017</text>
<text class="ax" x="977" y="948" text-anchor="end" transform="rotate(-45 977 948)">12.03.2017</text>
<text class="ax" x="1035" y="948" text-anchor="end" transform="rotate(-45 1035 948)">13.03.2017</text>
<text class="ax" x="1091" y="948" text-anchor="end" transform="rotate(-45 1091 948)">14.03.2017</text>
<text class="ax" x="1149" y="948" text-anchor="end" transform="rotate(-45 1149 948)">15.03.2017</text>
<text class="ax" x="1207" y="948" text-anchor="end" transform="rotate(-45 1207 948)">16.03.2017</text>
<text class="ax" x="1263" y="948" text-anchor="end" transform="rotate(-45 1263 948)">17.03.2017</text>
<text class="ax" x="1321" y="948" text-anchor="end" transform="rotate(-45 1321 948)">18.03.2017</text>
<text class="ax" x="1377" y="948" text-anchor="end" transform="rotate(-45 1377 948)">19.03.2017</text>
<text class="ax" x="1435" y="948" text-anchor="end" transform="rotate(-45 1435 948)">20.03.2017</text>
<text class="ax" x="1493" y="948" text-anchor="end" transform="rotate(-45 1493 948)">21.03.2017</text>
<text class="ax" x="1549" y="948" text-anchor="end" transform="rotate(-45 1549 948)">22.03.2017</text>
<text class="ax" x="1607" y="948" text-anchor="end" transform="rotate(-45 1607 948)">23.03.2017</text>
<text class="ax" x="1665" y="948" text-anchor="end" transform="rotate(-45 1665 948)">24.03.2017</text>
<text class="ax" x="1721" y="948" text-anchor="end" transform="rotate(-45 1721 948)">25.03.2017</text>
<text class="ax" x="1779" y="948" text-anchor="end" transform="rotate(-45 1779 948)">26.03.2017</text>
<text class="ax" x="1837" y="948" text-anchor="end" transform="rotate(-45 1837 948)">27.03.2017</text>
<text class="ax" x="1893" y="948" text-anchor="end" transform="rotate(-45 1893 948)">28.03.2017</text>
<text class="ax" x="1951" y="948" text-anchor="end" transform="rotate(-45 1951 948)">29.03.2017</text>
<text class="ax" x="2009" y="948" text-anchor="end" transform="rotate(-45 2009 948)">30.03.2017</text>
<text id="wt" x="324.300" y="493" style="font-family:'Liberation Sans',sans-serif;font-size:31px;letter-spacing:-.68px" fill="#262626">Новые клиенты</text>
<circle cx="912" cy="1090" r="12" fill="#4da2f1"/>
<text class="lg" x="938.75" y="1099.500" textLength="96.5" lengthAdjust="spacingAndGlyphs">Базовый</text>
<circle cx="1092.5" cy="1090" r="12" fill="#ff3d64"/>
<text class="lg" x="1118.75" y="1099.500" textLength="96.5" lengthAdjust="spacingAndGlyphs">Золотой</text>
<circle cx="1272.5" cy="1090" r="12" fill="#8ad554"/>
<text class="lg" x="1299.5" y="1099.500" textLength="145.5" lengthAdjust="spacingAndGlyphs">Серебряный</text>
</g>
<path d="M298 1129V1145.750H315Z" fill="#999"/>
<path d="M2046 1129V1145.750H2029Z" fill="#999"/>
</svg>
</div>
<div class="ovl"><svg class="" style="left:12px" viewBox="0 0 16 16"><path fill="currentColor" fill-rule="evenodd" clip-rule="evenodd" d="M7.199 2H8.800a.2.2 0 0 1 .2.2c0 1.808 1.958 2.939 3.524 2.034a.199.199 0 0 1 .271.073l.802 1.388a.199.199 0 0 1-.073.272c-1.566.904-1.566 3.164 0 4.069a.199.199 0 0 1 .073.271l-.802 1.388a.199.199 0 0 1-.271.073C10.958 10.863 9 11.993 9 13.800a.2.2 0 0 1-.199.2H7.200a.199.199 0 0 1-.2-.2c0-1.808-1.958-2.938-3.524-2.034a.199.199 0 0 1-.272-.073l-.8-1.388a.199.199 0 0 1 .072-.271c1.566-.905 1.566-3.165 0-4.070a.199.199 0 0 1-.073-.27l.801-1.389a.199.199 0 0 1 .272-.072C5.042 5.138 7 4.007 7 2.199c0-.11.089-.199.199-.199ZM5.500 2.200c0-.94.760-1.700 1.699-1.700H8.800c.94 0 1.700.760 1.700 1.700a.85.85 0 0 0 1.274.735 1.699 1.699 0 0 1 2.320.622l.802 1.388c.469.813.190 1.851-.622 2.320a.85.85 0 0 0 0 1.472 1.700 1.700 0 0 1 .622 2.320l-.802 1.388a1.699 1.699 0 0 1-2.320.622.85.85 0 0 0-1.274.735c0 .939-.760 1.700-1.700 1.700H7.200a1.700 1.700 0 0 1-1.699-1.700.85.85 0 0 0-1.274-.735 1.698 1.698 0 0 1-2.320-.622l-.802-1.388a1.699 1.699 0 0 1 .622-2.320.85.85 0 0 0 0-1.471 1.699 1.699 0 0 1-.622-2.321l.801-1.388a1.699 1.699 0 0 1 2.320-.622A.85.85 0 0 0 5.500 2.200Zm4 5.800a1.500 1.500 0 1 1-3 0 1.500 1.500 0 0 1 3 0ZM11 8a3 3 0 1 1-6 0 3 3 0 0 1 6 0Z"/></svg><svg class="" style="left:68px" viewBox="0 0 16 16"><g fill="none" stroke="currentColor" stroke-width="1.5" stroke-linecap="round" stroke-linejoin="round"><circle cx="3.500" cy="8" r="1.750"/><circle cx="12.500" cy="3.500" r="1.750"/><circle cx="12.500" cy="12.500" r="1.750"/><path d="M5.250 8H8M10.750 3.500H9.500A1.500 1.500 0 0 0 8 5v6a1.500 1.500 0 0 0 1.500 1.500h1.250"/></g></svg><svg class="" style="left:124px" viewBox="0 0 16 16"><g fill="currentColor"><circle cx="3" cy="8" r="1.500"/><circle cx="8" cy="8" r="1.500"/><circle cx="13" cy="8" r="1.500"/></g></svg></div>
<div class="panel">
<div class="pi" style="left:16px"><svg style="left:92.700px;top:46px" viewBox="0 0 36 36"><g fill="none" stroke="currentColor" stroke-width="3.2" stroke-linecap="round" stroke-linejoin="round"><path d="M5.500 19.900H13.400V15.800a2.500 2.500 0 0 1 2.500-2.500H23.400V8.800a2.500 2.500 0 0 1 2.500-2.500h5.400a2.500 2.500 0 0 1 2.500 2.500V27.900a2.500 2.500 0 0 1-2.500 2.500H5.500a2.500 2.500 0 0 1-2.500-2.500V22.400a2.500 2.500 0 0 1 2.500-2.500ZM13.400 19.900V30.400M23.400 13.300V30.400"/></g></svg><div class="l"><span id="l1">Чарт</span></div></div>
<div class="pi" style="left:232px"><svg style="left:92px;top:46px" viewBox="0 0 32 32"><g fill="none" stroke="currentColor" stroke-width="3" stroke-linecap="round" stroke-linejoin="round"><circle cx="12.400" cy="10.300" r="4.400"/><circle cx="20.600" cy="22.300" r="4.400"/><path d="M4.700 10.300H8M16.800 10.300H29.100M4.700 22.300H16.200M25 22.300H29.100"/></g></svg><div class="l"><span id="l2">Селектор</span></div></div>
<div class="pi" style="left:448px"><svg style="left:92px;top:46px" viewBox="0 0 32 32"><g fill="none" stroke="currentColor" stroke-width="3.1" stroke-linecap="round" stroke-linejoin="round"><path d="M6.400 5.600H27.200M6.400 12.700H19.200M6.400 19.700H27.200M6.400 26.900H19.200"/></g></svg><div class="l"><span id="l3">Текст</span></div></div>
<div class="pi" style="left:664px"><svg style="left:92px;top:46px" viewBox="0 0 32 32"><g fill="none" stroke="currentColor" stroke-width="3" stroke-linecap="round" stroke-linejoin="round"><path d="M9.300 6.200V26.400M24.400 6.200V26.400M9.300 16.300H24.400"/></g></svg><div class="l"><span id="l4">Заголовок</span></div></div>
</div>
<div class="frame"></div>
</body>
</html>
